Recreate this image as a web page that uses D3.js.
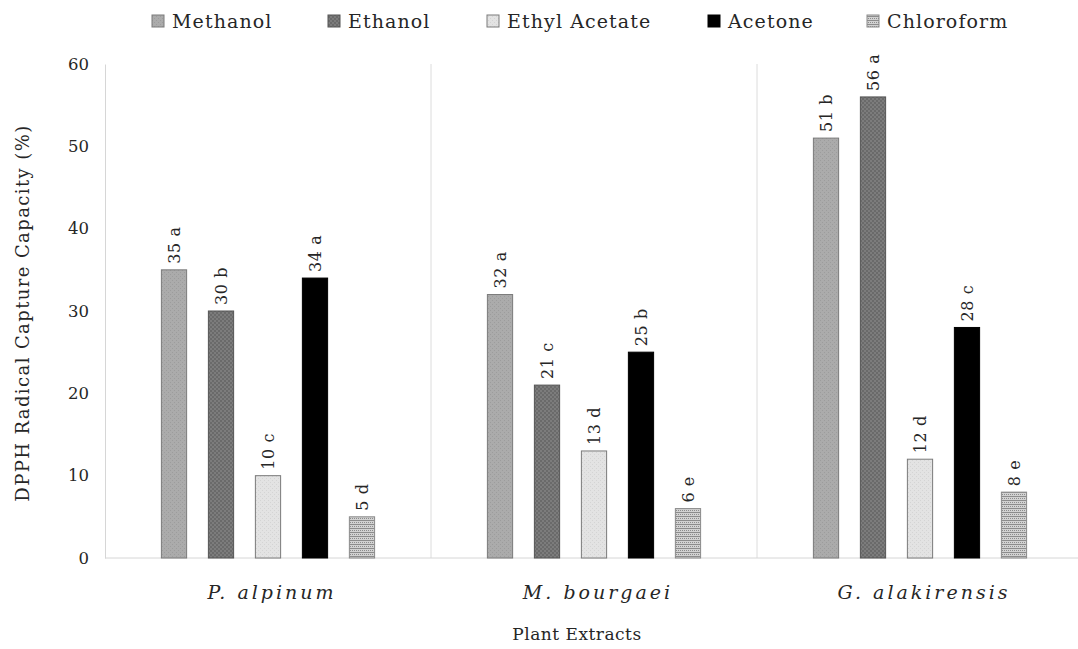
<!DOCTYPE html>
<html><head><meta charset="utf-8">
<script src="https://cdn.jsdelivr.net/npm/d3@7"></script>
<style>
body{margin:0;background:#fff;}
text{font-family:"DejaVu Serif","Liberation Serif",serif;fill:#262626;}
</style></head>
<body><svg id="c" width="1078" height="649"></svg>
<script>
const categories = ["P. alpinum", "M. bourgaei", "G. alakirensis"];
const seriesNames = ["Methanol", "Ethanol", "Ethyl Acetate", "Acetone", "Chloroform"];
const methanol = [35, 32, 51];
const ethanol = [30, 21, 56];
const ethylAcetate = [10, 13, 12];
const acetone = [34, 25, 28];
const chloroform = [5, 6, 8];
const letters = [["a","a","b"],["b","c","a"],["c","d","d"],["a","b","c"],["d","e","e"]];
const yTicks = [0, 10, 20, 30, 40, 50, 60];
const seriesValues = [methanol, ethanol, ethylAcetate, acetone, chloroform];

const svg = d3.select("#c");
const mLeft = 105, mRight = 1083, mTop = 64, mBottom = 558;

const defs = svg.append("defs");
function pat(id, bg, fg, kind){
  const p = defs.append("pattern").attr("id", id).attr("patternUnits","userSpaceOnUse").attr("width",4).attr("height",4);
  p.append("rect").attr("width",4).attr("height",4).attr("fill",bg);
  if(kind==="dots"){
    p.append("rect").attr("x",0).attr("y",0).attr("width",1).attr("height",1).attr("fill",fg);
    p.append("rect").attr("x",2).attr("y",2).attr("width",1).attr("height",1).attr("fill",fg);
  } else if(kind==="check"){
    p.append("rect").attr("x",0).attr("y",0).attr("width",2).attr("height",2).attr("fill",fg);
    p.append("rect").attr("x",2).attr("y",2).attr("width",2).attr("height",2).attr("fill",fg);
  } else if(kind==="hatch"){
    p.append("rect").attr("x",0).attr("y",0).attr("width",4).attr("height",1).attr("fill",fg);
    p.append("rect").attr("x",0).attr("y",2).attr("width",1).attr("height",1).attr("fill",fg);
    p.append("rect").attr("x",2).attr("y",2).attr("width",1).attr("height",1).attr("fill",fg);
  }
}
pat("p0","#ababab","#9c9c9c","dots");
pat("p1","#7c7c7c","#6a6a6a","check");
pat("p2","#e3e3e3","#d4d4d4","dots");
pat("p4","#d2d2d2","#8c8c8c","hatch");
const fills = ["url(#p0)","url(#p1)","url(#p2)","#000","url(#p4)"];
const strokes = ["#7a7a7a","#555","#7a7a7a","#000","#8a8a8a"];

const x0 = d3.scaleBand().domain(categories).range([mLeft, mRight]).paddingInner(0).paddingOuter(0);
const x1 = d3.scaleBand().domain(seriesNames).range([0, x0.bandwidth()]).paddingInner(0.463).paddingOuter(1.2);
const y = d3.scaleLinear().domain([0, 60]).range([mBottom, mTop]);

// separators
svg.selectAll("line.sep").data(categories.slice(1)).enter().append("line")
  .attr("x1", d=>x0(d)).attr("x2", d=>x0(d)).attr("y1", mTop).attr("y2", mBottom)
  .attr("stroke","#dcdcdc").attr("stroke-width",1);

// y axis
const ya = svg.append("g").attr("transform",`translate(${mLeft},0)`)
  .call(d3.axisLeft(y).tickValues(yTicks).tickSize(0).tickPadding(16));
ya.select(".domain").attr("stroke","#d6d6d6");
ya.selectAll("text").style("font-family","DejaVu Serif").style("font-size","16.5px").attr("fill","#262626");

// baseline
svg.append("line").attr("x1",mLeft).attr("x2",1078).attr("y1",mBottom).attr("y2",mBottom).attr("stroke","#d6d6d6");

// bars
seriesNames.forEach((s, si) => {
  const g = svg.append("g");
  g.selectAll("rect").data(categories).enter().append("rect")
    .attr("x", c => x0(c) + x1(s))
    .attr("y", (c,i) => y(seriesValues[si][i]))
    .attr("width", x1.bandwidth())
    .attr("height", (c,i) => y(0) - y(seriesValues[si][i]))
    .attr("fill", fills[si]).attr("stroke", strokes[si]).attr("stroke-width",1);
  g.selectAll("text").data(categories).enter().append("text")
    .attr("transform", (c,i) => `translate(${x0(c)+x1(s)+x1.bandwidth()/2+6},${y(seriesValues[si][i])-6}) rotate(-90)`)
    .attr("text-anchor","start")
    .style("font-size","16px").style("letter-spacing","0.6px")
    .text((c,i) => seriesValues[si][i] + " " + letters[si][i]);
});

// x category labels
svg.selectAll("text.cat").data(categories).enter().append("text")
  .attr("x", c => x0(c) + x0.bandwidth()/2 + 4).attr("y", 599)
  .attr("text-anchor","middle").style("font-style","italic").style("font-size","19px").style("letter-spacing","3px")
  .text(d=>d);

svg.append("text").attr("x", 577).attr("y", 640).attr("text-anchor","middle").style("font-size","17px").style("letter-spacing","0.5px").text("Plant Extracts");
svg.append("text").attr("transform","translate(29,313) rotate(-90)").attr("text-anchor","middle").style("font-size","18px").style("letter-spacing","1.4px").text("DPPH Radical Capture Capacity (%)");

// legend
const legendX = [152, 328, 487, 708, 867];
const lg = svg.append("g");
seriesNames.forEach((s, i) => {
  lg.append("rect").attr("x", legendX[i]).attr("y", 15).attr("width", 12).attr("height", 12)
    .attr("fill", fills[i]).attr("stroke", strokes[i]);
  lg.append("text").attr("x", legendX[i]+20).attr("y", 28).style("font-size","19px").style("letter-spacing","1.1px").text(s);
});
</script></body></html>
